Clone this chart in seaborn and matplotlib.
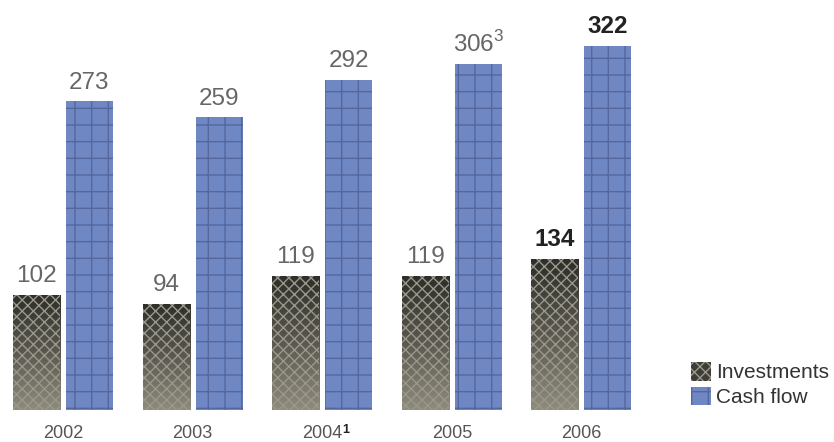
import matplotlib
matplotlib.use("Agg")
import matplotlib.pyplot as plt
import seaborn as sns
import pandas as pd
import numpy as np
from matplotlib.colors import LinearSegmentedColormap
from matplotlib.patches import Patch

years = ["2002", "2003", "2004", "2005", "2006"]
investments = [102, 94, 119, 119, 134]
cash_flow = [273, 259, 292, 306, 322]
series = ["Investments", "Cash flow"]
year_note = {"2004": "1"}
cash_note = {"2005": "3"}

sns.set_theme(style="white")
plt.rcParams["font.family"] = ["Liberation Sans", "DejaVu Sans"]
plt.rcParams["mathtext.fontset"] = "custom"
plt.rcParams["mathtext.rm"] = "Liberation Sans"
plt.rcParams["mathtext.bf"] = "Liberation Sans:bold"
plt.rcParams["hatch.linewidth"] = 1.0

df = pd.DataFrame({
    "year": years * 2,
    "value": investments + cash_flow,
    "series": [series[0]] * 5 + [series[1]] * 5,
})

fig = plt.figure(figsize=(8.34, 4.42), dpi=100)
ax = fig.add_axes([0, 32 / 442, 680 / 834, 410 / 442])
colors = {"Investments": "#55544b", "Cash flow": "#6f87c3"}
sns.barplot(data=df, x="year", y="value", hue="series", palette=colors,
            width=0.818, gap=0.113, ax=ax, legend=False, saturation=1)

hatch_style = {"Investments": ("xxx", "#9a988a"), "Cash flow": ("+", "#56679d")}
grad_cmap = LinearSegmentedColormap.from_list("inv", ["#8e8b7c", "#5a5850", "#2e2e2a"])
for cont, name in zip(ax.containers, series):
    h, ec = hatch_style[name]
    for bar in cont:
        bar.set_hatch(h)
        bar.set_edgecolor(ec)
        bar.set_linewidth(0)
        if name == "Investments":
            bar.set_facecolor("none")
            x0 = bar.get_x()
            img = ax.imshow(np.linspace(0, 1, 64).reshape(-1, 1), cmap=grad_cmap,
                            extent=(x0, x0 + bar.get_width(), 0, bar.get_height()),
                            origin="lower", aspect="auto", zorder=bar.get_zorder() - 0.1)
            img.set_clip_path(bar)

ax.set_xlim(-0.486, 4.761)
ax.set_ylim(0, 362.8)
for s in ax.spines.values():
    s.set_visible(False)
ax.set_yticks([])
ax.set_xlabel("")
ax.set_ylabel("")
ax.set_xticks(range(len(years)))
ax.set_xticklabels(years, fontsize=13, color="#555555")
ax.tick_params(axis="x", length=0, pad=10.5)

# footnote markers on year labels
for i, y in enumerate(years):
    if y in year_note:
        ax.annotate(year_note[y], (i, 0), xytext=(14.8, -10.2), textcoords="offset points",
                    ha="left", va="top", fontsize=9, fontweight="bold", color="#222222",
                    annotation_clip=False)

inv_c, cf_c = ax.containers[0], ax.containers[1]
for vals, cont in ((investments, inv_c), (cash_flow, cf_c)):
    for i, bar in enumerate(cont):
        bold = i == len(years) - 1
        txt = str(vals[i])
        if cont is cf_c and years[i] in cash_note:
            txt += r"$^{%s}$" % cash_note[years[i]]
        ax.annotate(txt, (bar.get_x() + bar.get_width() / 2, bar.get_height()),
                    xytext=(0, 5.5), textcoords="offset points", ha="center", va="bottom",
                    fontsize=17.5, color="#222222" if bold else "#666666",
                    fontweight="bold" if bold else "normal")

handles = [Patch(facecolor=c, hatch=hatch_style[n][0], edgecolor=hatch_style[n][1], linewidth=0)
           for n, c in (("Investments", "#3e3d37"), ("Cash flow", "#6f87c3"))]
leg = fig.legend(handles, series, loc="upper left", bbox_to_anchor=(691 / 834, 1 - 362 / 442),
                 frameon=False, fontsize=15, handlelength=0.95, handleheight=1.0,
                 handletextpad=0.25, labelspacing=0.2, borderaxespad=0, borderpad=0)
for t in leg.get_texts():
    t.set_color("#333333")

fig.savefig("out.png", dpi=100)
